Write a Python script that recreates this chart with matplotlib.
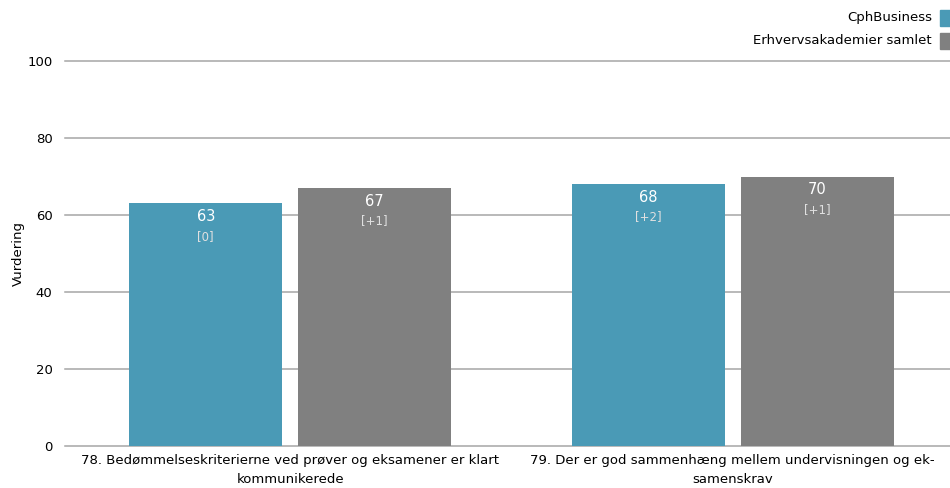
import numpy as np
import matplotlib.pyplot as plt
from matplotlib.patches import Rectangle

categories = ["78. Bedømmelseskriterierne ved prøver og eksamener er klart\nkommunikerede",
              "79. Der er god sammenhæng mellem undervisningen og ek-\nsamenskrav"]
series = ["CphBusiness", "Erhvervsakademier samlet"]
cph = [63, 68]
samlet = [67, 70]
cph_diff = ["[0]", "[+2]"]
samlet_diff = ["[+1]", "[+1]"]
colors = ["#4a9ab6", "#808080"]

plt.rcParams['font.family'] = ['DejaVu Sans']
fig = plt.figure(figsize=(9.5, 4.88), dpi=100)
ax = fig.add_axes([65 / 950, 42 / 488, 885 / 950, 385 / 488])

x = np.arange(len(categories))
w = 0.346
off = 0.191
for vals, diffs, c, o in [(cph, cph_diff, colors[0], -off), (samlet, samlet_diff, colors[1], off)]:
    bars = ax.bar(x + o, vals, w, color=c, zorder=3)
    for b, v, d in zip(bars, vals, diffs):
        cx = b.get_x() + b.get_width() / 2
        ax.text(cx, v - 1.5, str(v), ha='center', va='top', color='white', fontsize=10.5, zorder=4)
        ax.text(cx, v - 6.8, d, ha='center', va='top', color='#e0e0e0', fontsize=8.5, zorder=4)

ax.set_xlim(-0.509, 1.491)
ax.set_ylim(0, 100)
ax.set_yticks([0, 20, 40, 60, 80, 100])
ax.yaxis.grid(True, color='#a6a6a6', linewidth=1.1, zorder=0, clip_on=False)
for s in ax.spines.values():
    s.set_visible(False)
ax.tick_params(axis='both', length=0, labelsize=9.5)
ax.tick_params(axis='y', pad=9)
ax.tick_params(axis='x', pad=6)
ax.set_xticks(x)
ax.set_xticklabels(categories, fontsize=9.5, linespacing=1.55)
ax.set_ylabel("Vurdering", fontsize=9.5, labelpad=2)

# legend top right
for i, (name, c) in enumerate(zip(series, colors)):
    ytop = 10 + i * 23
    fig.patches.append(Rectangle((940 / 950, 1 - (ytop + 16) / 488), 10 / 950, 16 / 488,
                                 transform=fig.transFigure, color=c, figure=fig))
    fig.text(932 / 950, 1 - (ytop + 8) / 488, name, ha='right', va='center', fontsize=9.5)

fig.savefig("out.png", dpi=100)
